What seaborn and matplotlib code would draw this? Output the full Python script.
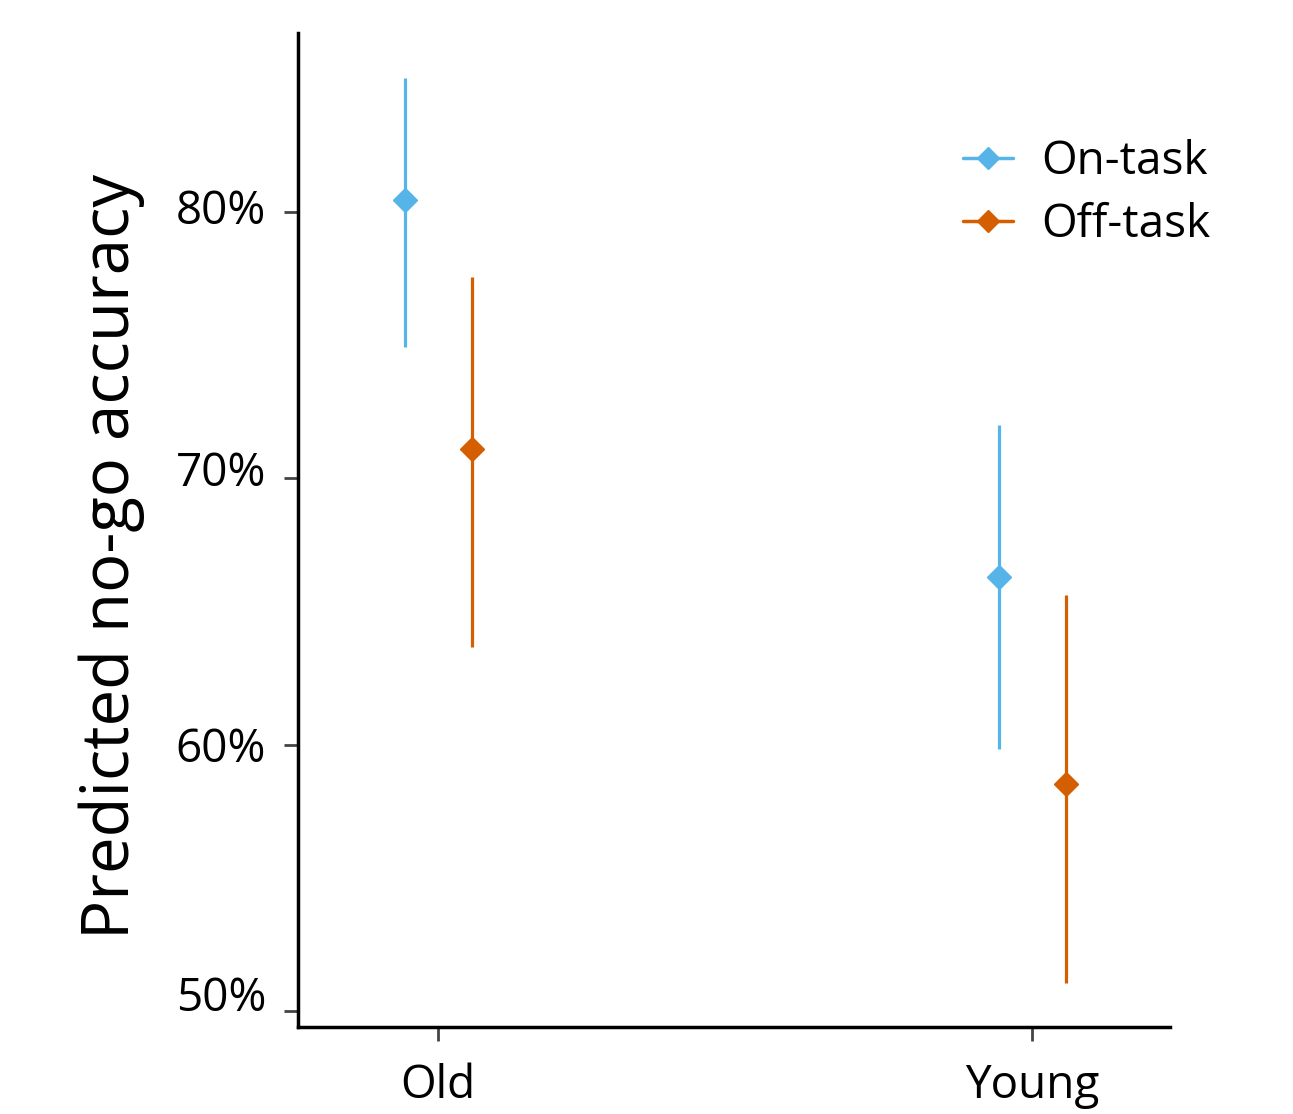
import numpy as np
import matplotlib
matplotlib.use("Agg")
import matplotlib.pyplot as plt
import matplotlib.transforms as mtransforms
from matplotlib.lines import Line2D
import seaborn as sns

# data (predicted no-go accuracy, %)
groups = ["Old", "Young"]
conditions = ["On-task", "Off-task"]
estimate = {"On-task": [80.45, 66.3], "Off-task": [71.1, 58.5]}
ci_low = {"On-task": [74.9, 59.85], "Off-task": [63.65, 51.05]}
ci_high = {"On-task": [85.0, 72.0], "Off-task": [77.55, 65.6]}
colors = {"On-task": "#56B4E9", "Off-task": "#D55E00"}
ytick_vals = [50, 60, 70, 80]
ytick_labels = ["50%", "60%", "70%", "80%"]

sns.set_style("white")
plt.rcParams["font.family"] = ["Open Sans", "DejaVu Sans"]
plt.rcParams["text.color"] = "black"
plt.rcParams["axes.labelcolor"] = "black"
plt.rcParams["xtick.color"] = "black"
plt.rcParams["ytick.color"] = "black"

fig = plt.figure(figsize=(12.93, 11.14), dpi=100)
ax = fig.add_axes([0.2305, 0.0781, 0.6745, 0.8923])

dodge = {"On-task": -0.056, "Off-task": 0.056}
for cond in conditions:
    x = np.arange(len(groups)) + dodge[cond]
    est = np.array(estimate[cond])
    lo = est - np.array(ci_low[cond])
    hi = np.array(ci_high[cond]) - est
    ax.errorbar(x, est, yerr=[lo, hi], fmt="D", color=colors[cond],
                ms=12, elinewidth=2.3, capsize=0)

ax.set_xlim(-0.236, 1.232)
ax.set_ylim(49.4, 86.7)
ax.set_xticks(range(len(groups)))
ax.set_xticklabels(groups)
ax.set_yticks(ytick_vals)
ax.set_yticklabels(ytick_labels)
ax.set_ylabel("Predicted no-go accuracy", fontsize=47, labelpad=22)
ax.yaxis.label.set_y(0.473)
ax.tick_params(axis="both", labelsize=33, length=10, width=2, color="#444444",
               direction="out", left=True, bottom=True, pad=13)
ax.tick_params(axis="x", pad=16)

# the y labels sit a little above their ticks in the original
for lab, dy in zip(ax.get_yticklabels(), [18, 0, 10, 5]):
    lab.set_transform(lab.get_transform() +
                      mtransforms.ScaledTranslation(0, dy / 100, fig.dpi_scale_trans))

sns.despine(ax=ax)
for s in ["left", "bottom"]:
    ax.spines[s].set_linewidth(2.5)
    ax.spines[s].set_color("black")

handles = [Line2D([], [], color=colors[c], marker="D", ms=11, lw=2.5, label=c)
           for c in conditions]
ax.legend(handles=handles, loc="upper right", bbox_to_anchor=(1.093, 0.935),
          frameon=False, fontsize=33, handlelength=1.1, handletextpad=0.6,
          labelspacing=0.38)

fig.savefig("out.png", dpi=100)
